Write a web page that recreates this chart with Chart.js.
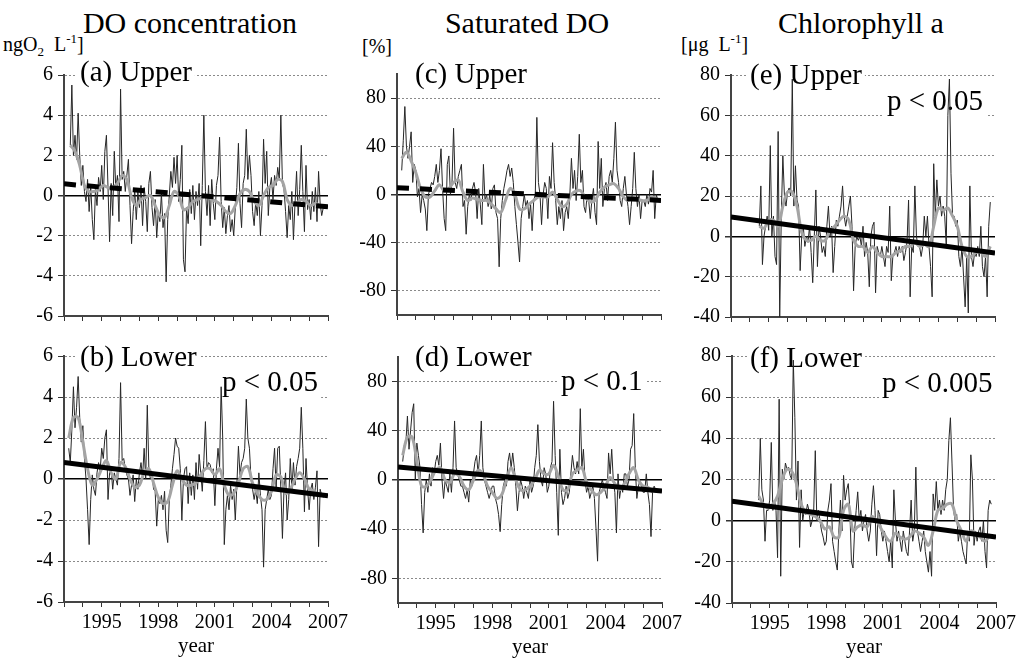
<!DOCTYPE html>
<html>
<head>
<meta charset="utf-8">
<script src="https://cdn.jsdelivr.net/npm/chart.js@4/dist/chart.umd.min.js"></script>
<style>
  body { margin: 0; background: #fff; width: 1021px; height: 661px; overflow: hidden; position: relative;
         font-family: 'Liberation Serif', 'DejaVu Serif', serif; color: #000; }
  canvas { position: absolute; }
  .title { position: absolute; font-size: 30px; line-height: 30px; white-space: nowrap; transform: translateX(-50%); }
  .unit { position: absolute; font-size: 20px; line-height: 20px; white-space: nowrap; }
  .unit span { font-size: 13px; position: relative; }
</style>
</head>
<body>
<div class="title" style="left:190px; top:8px">DO concentration</div>
<div class="title" style="left:527px; top:8px">Saturated DO</div>
<div class="title" style="left:861px; top:8px">Chlorophyll a</div>
<div class="unit" style="left:3px; top:34px">ngO<span style="top:5px">2</span>&nbsp; L<span style="top:-8px">-1</span>]</div>
<div class="unit" style="left:362px; top:36px">[%]</div>
<div class="unit" style="left:681px; top:34px">[μg&nbsp; L<span style="top:-8px">-1</span>]</div>

<script>
// axes
const yearTicks = [1993, 1994, 1995, 1996, 1997, 1998, 1999, 2000, 2001, 2002, 2003, 2004, 2005, 2006, 2007];
const yearLabels = [1995, 1998, 2001, 2004, 2007];
const doTicks = [-6, -4, -2, 0, 2, 4, 6];
const satTicks = [-80, -40, 0, 40, 80];
const chlTicks = [-40, -20, 0, 20, 40, 60, 80];
const trendYears = [1993, 2007];

// monthly anomalies, first value at month index (months after Jan 1993)
const doUpperStart = 4;
const doUpperRaw = [
  2.5, 5.5, 2.0, 3.0, 1.8, 4.1, 2.0, 0.5, 1.5, 0.2,
  -0.3, 0.8, -0.8, 0.5, -1.2, -2.2, 0.3, -0.5, 0.9, 0.2,
  1.5, -0.2, 2.2, 3.0, 0.4, -2.3, 0.6, -1.0, 2.2, 0.3,
  1.0, -1.3, 5.3, 0.8, 1.2, 0.2, 1.0, 1.8, -0.5, -2.4,
  -0.8, 0.3, -1.2, 0.2, -0.6, 0.5, -1.5, 0.4, -0.3, -1.8,
  0.6, 1.2, -0.6, -1.5, -0.2, -2.1, -0.8, -1.3, 0.1, -1.6,
  -0.9, -4.3, -1.2, 0.0, 1.2, 0.4, 1.9, 0.6, 2.0, -0.3,
  0.8, 2.5, -3.2, -3.8, -0.6, -1.4, 0.3, -0.9, 0.5, -1.2,
  0.2, -0.5, 0.6, -2.5, 0.5, 4.0, 0.2, -1.0, 0.5, -1.5,
  0.8, -0.4, -1.2, 0.5, 1.0, 2.9, -0.3, -1.6, -0.6, -1.9,
  -1.0, -0.5, -1.8, -1.2, -2.0, -0.6, 0.4, 2.6, -0.4, -1.6,
  0.6, 1.0, 3.3, 0.8, 2.0, 1.0, -0.8, -1.5, -0.3, -1.0,
  0.2, -2.0, -0.5, 2.8, 0.6, 2.2, -1.0, 0.4, 0.9, -0.2,
  1.0, 0.5, 1.4, 0.8, 4.0, 0.6, 0.3, -0.8, -2.1, -0.5,
  -1.2, 0.2, -2.2, -0.4, 1.2, -1.0, 0.3, 2.5, 0.2, -1.8,
  1.5, -0.7, -0.2, -1.2, 0.2, -0.8, 0.4, -1.3, 1.2, -0.4,
  -1.0, -0.6
];
const doUpperSmooth = [
  2.5, 2.2, 1.5, 0.5, 0.2, 0.2, 0.3, 0.5, 0.4, 0.4, 0.6, 1.0, 0.8, -0.1, -0.5, -0.2, -0.1, 0.0,
  -0.5, -1.0, -1.1, -0.5, 0.2, 0.0, -0.7, -0.6, -0.3, -0.2, -0.1, 0.0, -0.2, -0.3, -0.5, -0.8,
  -0.9, -0.5, 0.1, 0.3, 0.2, -0.3, -0.5, 0.0, 0.4, 0.5, 0.8, 0.7, -0.2, -0.5, -0.4, -0.2, -0.3,
  -0.5, -0.4, -0.5
];
const doUpperTrend = [0.58, -0.56];

const doLowerStart = 3;
const doLowerRaw = [
  1.5, 0.8, 2.4, 4.5, 2.5, 3.5, 5.0, 3.0, 1.8, 2.6,
  1.0, 0.0, -1.5, -3.2, -1.0, 0.2, -0.5, -0.8, 0.3, 0.8,
  0.4, 1.5, 1.0, 2.0, 2.4, -1.0, 0.3, 0.5, -0.5, 0.3,
  0.0, -0.3, 1.0, 4.7, 0.9, 1.0, 0.5, 0.2, 0.0, -0.8,
  -0.3, 0.2, -1.1, 0.0, -0.5, 0.3, 0.8, 0.1, 1.5, 0.0,
  3.6, 0.5, 0.0, 0.3, -0.5, -0.6, -2.3, -1.0, -1.2, -0.8,
  -1.5, -0.6, -2.5, -3.1, -1.0, -0.3, 0.5, 1.2, 2.0, 1.6,
  1.5, 0.5, -2.0, 0.0, 0.5, 0.6, -1.2, 0.3, -0.8, 0.2,
  -1.0, 0.8, -0.5, 1.2, 0.3, -0.6, 0.9, 2.8, 0.5, 0.8,
  0.7, 0.3, 0.5, -1.3, 0.5, 1.5, 0.6, 4.5, 2.0, -3.2,
  -1.5, -0.8, -1.5, -0.3, -1.0, -0.5, -2.0, -0.3, 1.6, 0.2,
  0.8, 1.0, 1.5, 3.9, 2.0, 1.5, 0.0, -0.5, -1.0, -0.5,
  -1.2, 0.3, -0.8, -1.5, -4.3, -1.5, -1.0, -0.5, -1.0, -0.8,
  0.5, 1.5, -0.5, 1.5, 1.6, -0.5, -2.9, -0.5, 0.3, -2.0,
  -1.0, 1.0, -0.5, 0.8, -0.3, 0.6, 1.0, 1.5, 3.5, 1.5,
  -1.6, 1.0, -0.5, -1.5, -0.5, -0.2, -1.0, -0.4, 0.4, -3.3,
  -0.5, -0.8, -0.9
];
const doLowerSmooth = [
  2.0, 3.0, 3.0, 1.8, 0.5, -0.3, 0.0, 0.5, 0.9, 0.3, 0.0, 0.8, 0.6, 0.0, -0.4, -0.3, 0.3, 0.5,
  -0.2, -0.9, -1.2, -1.1, -0.3, 0.4, 0.0, -0.3, -0.3, -0.2, 0.2, 0.5, 0.5, 0.2, 0.5, -0.3, -0.8,
  -0.7, -0.2, 0.5, 0.6, -0.2, -0.7, -1.0, -1.0, -0.6, 0.2, 0.1, -0.7, -0.5, 0.0, 0.3, 0.0, -0.5,
  -0.6, -0.8, -0.8
];
const doLowerTrend = [0.81, -0.82];

const satUpperStart = 3;
const satUpperRaw = [
  20, 45, 73, 40, 30, 40, 52, 10, 25, 20,
  -2, 5, -15, 0, -5, -12, -30, 0, 5, 10,
  8, 15, 25, 10, 20, 38, 5, -20, -30, 25,
  32, 0, 10, 55, 10, 5, 15, 20, 25, -10,
  -5, -33, -10, 0, -5, 5, 10, 2, -20, 5,
  -8, -25, 25, -5, 0, -10, 0, -12, 5, 8,
  -15, -20, -60, -20, -5, 5, 12, 20, 25, 15,
  22, 10, -10, -25, -40, -56, -20, -10, 0, -10,
  -5, -20, -8, -30, -5, 0, 64, 10, 0, -25,
  0, 10, 5, -20, 15, 5, 43, 10, -5, -25,
  -10, -20, -5, -30, -15, -10, -20, 0, 30, 5,
  20, -5, 15, 50, 10, 20, -10, -15, 0, -5,
  -20, -5, 5, -15, -25, 44, 5, 30, -10, 5,
  10, -5, 15, 20, 10, 30, 60, 20, 10, -5,
  -10, 5, 15, 0, -10, -25, -10, 5, 35, 5,
  -10, 0, -20, -5, -5, -10, 0, -8, 5, 2,
  20, -20, 0, -5
];
const satUpperSmooth = [
  30, 35, 28, 18, 5, -2, -2, 3, 8, 3, 5, 10, 12, 2, -5, -3, -4, -5, -5, -8, -12, -15, -5, 5,
  0, -12, -12, -8, -5, -2, -2, -2, 2, -4, -10, -8, 0, 3, 3, -3, -6, -5, 2, 6, 8, 9, 5, -2, -5,
  -3, -4, -5, -5, -2, -4
];
const satUpperTrend = [5.6, -4.9];

const satLowerStart = 3;
const satLowerRaw = [
  15, 28, 30, 52, 25, 40, 55, 62, 0, 30,
  20, 10, -20, -43, -10, 0, -10, 5, -5, 10,
  5, 15, 20, 12, 30, 0, -15, 0, -5, -10,
  5, -10, 10, 48, 10, 5, 0, -5, -5, -10,
  -15, -8, -18, 0, -5, 5, 15, 20, 5, 20,
  48, 10, 0, -5, -10, -15, -10, -5, -5, -15,
  -20, -28, -42, -20, -5, 0, -5, 15, 22, 10,
  22, 10, -5, -25, -10, 0, -5, -15, -5, -10,
  -15, 0, -10, -5, 10, 20, 45, 15, 0, -5,
  10, 5, -10, -5, 10, 15, 64, 20, -10, -45,
  25, -10, -20, -15, -5, -15, -10, 5, 20, 10,
  5, 15, 5, 58, 10, 25, 0, -10, -5, -15,
  -10, -5, -15, -40, -66, -10, -5, 0, -5, -10,
  -15, 22, 5, 25, 0, -10, -43, 5, -15, -5,
  -10, 5, 5, -5, 0, 25, 28, 54, 10, -15,
  -5, 0, -5, -10, -10, 5, -10, -20, -46, -10,
  -5, -8
];
const satLowerSmooth = [
  20, 35, 35, 15, -5, -5, 0, 8, 10, 0, -2, 5, 3, -5, -8, 0, 8, 5, -5, -10, -15, -12, 0, 10,
  0, -8, -8, -5, 0, 8, 5, 5, 12, 3, -8, -8, 5, 8, 10, -2, -8, -12, -10, -5, 2, -3, -8, -3, 5,
  10, 0, -5, -6, -10
];
const satLowerTrend = [10.5, -9.0];

const chlUpperStart = 18;
const chlUpperRaw = [
  5, 25, -14, 0, 5, 10, 3, 45, 0, 10,
  -10, -14, 52, -40, 10, 40, 20, 15, 22, 24,
  20, 78, 15, 35, 18, 15, -17, 0, 5, -5,
  0, -3, 5, -8, -23, 0, 23, -15, 5, 0,
  -8, -5, -10, 5, 15, 0, 5, -18, -5, 8,
  5, 10, 15, 25, 10, 5, 10, 15, 20, 5,
  -27, -5, 0, -2, 0, -5, 5, -10, -3, -8,
  -25, 0, 5, 7, -28, -5, -8, -10, -5, -10,
  -15, -5, -8, 15, -22, -10, -8, -5, -10, -5,
  -8, -5, -12, -8, -3, 18, -30, -5, -8, 25,
  0, -5, -5, -10, -5, 10, 0, 10, -5, -15,
  -30, 36, 10, 28, 15, 20, 10, 15, 10, -5,
  60, 78, 31, 10, 10, 5, 8, -10, -15, -5,
  -20, -35, -10, -38, 25, -10, -15, -8, -10, -5,
  -10, 5, -15, -20, -10, -30, 5, 17
];
const chlUpperSmooth = [
  5, 4, 8, 8, 5, 15, 22, 22, 15, 2, -2, -2, 0, -2, -2, 3, 5, 8, 10, 8, -2, -5, -5, -8, -5,
  -8, -10, -10, -10, -8, -7, -5, -5, -3, -5, -4, -5, 5, 14, 13, 14, 10, 5, -5, -10, -10, -8,
  -8, -10, -5
];
const chlUpperTrend = [9.6, -8.3];

const chlLowerStart = 17;
const chlLowerRaw = [
  10, 40, 15, 10, -10, 5, 5, 10, 38, 5,
  10, 5, -18, 59, -27, 25, 20, 28, 25, 26,
  22, 20, 78, 50, 10, 29, -13, 15, 0, 5,
  3, 8, 5, -3, 0, 5, 34, 0, 5, 0,
  -5, -8, -12, -10, 5, 10, 18, -10, -15, -20,
  -24, -5, 10, -5, 22, 10, 15, 18, 5, -20,
  -23, -5, 5, 14, 0, 5, -5, 0, 3, -5,
  -10, -5, 8, 17, 5, -17, 5, 3, -5, -10,
  -5, -10, -15, -20, -10, -23, 15, 0, -10, -5,
  -10, -15, -5, -10, -15, -17, -5, 10, -10, -5,
  26, -5, -10, -15, -10, -5, -15, -20, -25, -15,
  -27, 13, 5, 19, 5, 10, 3, 10, 5, 15,
  20, 39, 50, 28, 5, 0, 3, -10, -5, -10,
  -15, -18, -21, -5, -10, 32, 20, -12, -5, -10,
  -5, -3, -10, 0, -15, -23, 5, 10, 8
];
const chlLowerSmooth = [
  12, 8, 6, 8, 12, 20, 25, 24, 18, 8, 4, 3, 2, 0, -4, -3, -8, -8, 5, 8, -5, -3, -2, -3, 2,
  0, -4, -8, -10, -6, -8, -9, -8, -5, -6, -8, -12, -5, 5, 6, 8, 8, 0, -5, -10, -5, -6, -8,
  -10, -7
];
const chlLowerTrend = [9.5, -8.0];

function monthly(start, step, values) {
  return values.map((v, i) => ({ x: 1993 + (start + i * step) / 12, y: v }));
}
function trendLine(values) {
  return values.map((v, i) => ({ x: trendYears[i], y: v }));
}

const FONT = "'Liberation Serif', 'DejaVu Serif', serif";

const panelText = {
  id: 'panelText',
  beforeDatasetsDraw(chart, args, opts) {
    const { ctx, chartArea } = chart;
    ctx.save();
    ctx.font = '29px ' + FONT;
    ctx.textBaseline = 'alphabetic';
    (opts.items || []).forEach(t => {
      const x = chartArea.left + t[1];
      const y = chartArea.top + t[2];
      const w = ctx.measureText(t[0]).width;
      ctx.fillStyle = '#fff';
      ctx.fillRect(x - 3, y - 23, w + 6, 30);
      ctx.fillStyle = '#000';
      ctx.fillText(t[0], x, y);
    });
    ctx.restore();
  }
};

const panels = [
  { left: 64, top: 75, h: 246, bottom: false, min: -6, max: 6, ticks: doTicks,
    raw: monthly(doUpperStart, 1, doUpperRaw), smooth: monthly(doUpperStart, 3, doUpperSmooth),
    trend: trendLine(doUpperTrend), dashed: true, texts: [['(a) Upper', 16, 6]] },
  { left: 64, top: 356, h: 246, bottom: true, min: -6, max: 6, ticks: doTicks,
    raw: monthly(doLowerStart, 1, doLowerRaw), smooth: monthly(doLowerStart, 3, doLowerSmooth),
    trend: trendLine(doLowerTrend), dashed: false, texts: [['(b) Lower', 16, 10], ['p < 0.05', 158, 35]] },
  { left: 397, top: 74, h: 246, bottom: false, min: -100, max: 100, ticks: satTicks,
    raw: monthly(satUpperStart, 1, satUpperRaw), smooth: monthly(satUpperStart, 3, satUpperSmooth),
    trend: trendLine(satUpperTrend), dashed: true, texts: [['(c) Upper', 18, 9]] },
  { left: 398, top: 357, h: 246, bottom: true, min: -100, max: 100, ticks: satTicks,
    raw: monthly(satLowerStart, 1, satLowerRaw), smooth: monthly(satLowerStart, 3, satLowerSmooth),
    trend: trendLine(satLowerTrend), dashed: false, texts: [['(d) Lower', 17, 9], ['p < 0.1', 163, 33]] },
  { left: 731, top: 75, h: 247, bottom: false, min: -40, max: 80, ticks: chlTicks,
    raw: monthly(chlUpperStart, 1, chlUpperRaw), smooth: monthly(chlUpperStart, 3, chlUpperSmooth),
    trend: trendLine(chlUpperTrend), dashed: false, texts: [['(e) Upper', 19, 9], ['p < 0.05', 156, 35]] },
  { left: 732, top: 356, h: 247, bottom: true, min: -40, max: 80, ticks: chlTicks,
    raw: monthly(chlLowerStart, 1, chlLowerRaw), smooth: monthly(chlLowerStart, 3, chlLowerSmooth),
    trend: trendLine(chlLowerTrend), dashed: false, texts: [['(f) Lower', 18, 11], ['p < 0.005', 150, 36]] }
];

const PAD_L = 62, PAD_T = 25, PAD_R = 25, PLOT_W = 264;

panels.forEach(p => {
  const xH = p.bottom ? 58 : 12;
  const canvas = document.createElement('canvas');
  canvas.width = PAD_L + PLOT_W + PAD_R;
  canvas.height = PAD_T + p.h + xH;
  canvas.style.left = (p.left - PAD_L) + 'px';
  canvas.style.top = (p.top - PAD_T) + 'px';
  document.body.appendChild(canvas);

  new Chart(canvas, {
    type: 'line',
    data: {
      datasets: [
        { data: p.raw, borderColor: '#262626', borderWidth: 1, pointRadius: 0, tension: 0, order: 3 },
        { data: p.smooth, borderColor: '#a4a4a4', borderWidth: 3, pointRadius: 0, tension: 0.35, order: 2 },
        { data: p.trend, borderColor: '#000', borderWidth: 5, pointRadius: 0,
          borderDash: p.dashed ? [12, 11] : [], order: 1 }
      ]
    },
    options: {
      responsive: false,
      animation: false,
      events: [],
      layout: { padding: { left: 0, top: PAD_T, right: PAD_R, bottom: 0 } },
      plugins: {
        legend: { display: false },
        tooltip: { enabled: false },
        panelText: { items: p.texts }
      },
      scales: {
        x: {
          type: 'linear', min: 1993, max: 2007,
          afterFit: s => { s.height = xH; },
          afterBuildTicks: s => { s.ticks = yearTicks.map(v => ({ value: v })); },
          ticks: {
            autoSkip: false, maxRotation: 0, padding: 4, color: '#000',
            font: { family: FONT, size: 20 },
            callback: v => (p.bottom && yearLabels.includes(v)) ? String(v) : ''
          },
          grid: { drawOnChartArea: false, tickLength: 5, color: '#333', lineWidth: 1 },
          border: { color: '#444', width: 2 },
          title: {
            display: p.bottom, text: 'year', color: '#000',
            font: { family: FONT, size: 21 }, padding: { top: 0, bottom: 1 }
          }
        },
        y: {
          type: 'linear', min: p.min, max: p.max,
          afterFit: s => { s.width = PAD_L; },
          afterBuildTicks: s => { s.ticks = p.ticks.map(v => ({ value: v })); },
          ticks: {
            padding: 5, color: '#000',
            font: { family: FONT, size: 20 },
            callback: v => String(v)
          },
          grid: {
            tickLength: 6,
            color: c => (c.tick && c.tick.value === 0) ? '#000' : '#8a8a8a',
            tickColor: '#333',
            lineWidth: c => (c.tick && c.tick.value === 0) ? 1.5 : 1
          },
          border: {
            color: '#444', width: 2,
            dash: c => (c.tick && c.tick.value !== 0) ? [2, 2] : []
          }
        }
      }
    },
    plugins: [panelText]
  });
});
</script>
</body>
</html>
